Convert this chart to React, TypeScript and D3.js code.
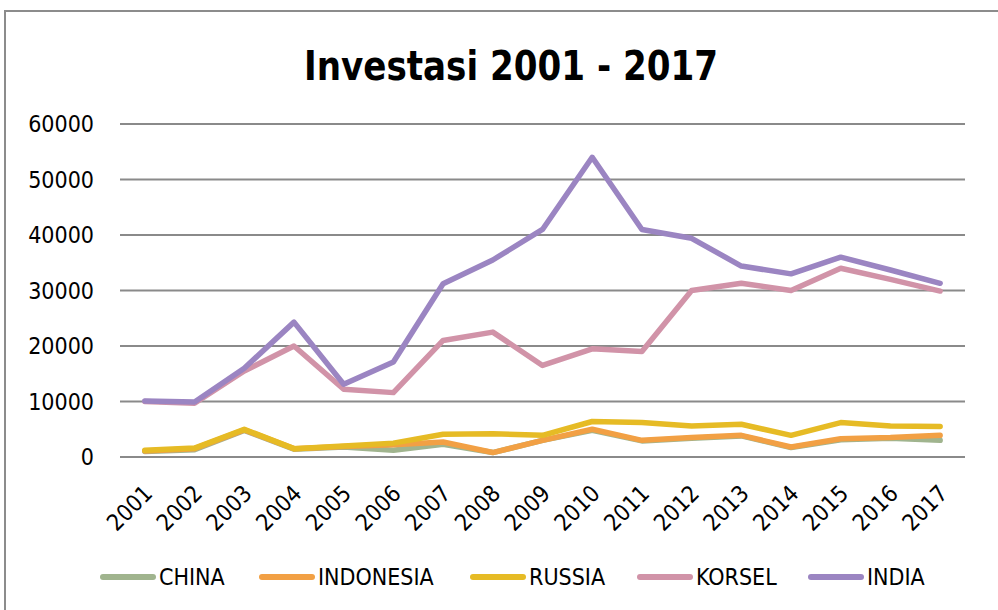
import { useEffect, useRef } from 'react'
import * as d3 from 'd3'

const years = ['2001', '2002', '2003', '2004', '2005', '2006', '2007', '2008', '2009', '2010', '2011', '2012', '2013', '2014', '2015', '2016', '2017']

const china = [1000, 1300, 4800, 1400, 1800, 1200, 2300, 800, 3000, 4800, 2900, 3400, 3800, 1700, 3100, 3400, 3000]
const indonesia = [1100, 1500, 4900, 1500, 1900, 2200, 2700, 800, 3000, 5000, 3000, 3500, 3900, 1800, 3300, 3500, 3900]
const russia = [1200, 1600, 5000, 1500, 2000, 2500, 4100, 4200, 3900, 6400, 6200, 5600, 5900, 3900, 6200, 5600, 5500]
const korsel = [10000, 9700, 15500, 20000, 12200, 11600, 21000, 22500, 16500, 19500, 19000, 30000, 31300, 30000, 34000, 32000, 29900]
const india = [10100, 9900, 16000, 24300, 13100, 17100, 31200, 35500, 41000, 54000, 41000, 39400, 34400, 33000, 36000, 33700, 31300]

const yTicks = [0, 10000, 20000, 30000, 40000, 50000, 60000]

const seriesList = [
  { name: 'CHINA', values: china, color: '#A0B48E' },
  { name: 'INDONESIA', values: indonesia, color: '#F2A044' },
  { name: 'RUSSIA', values: russia, color: '#E6BB25' },
  { name: 'KORSEL', values: korsel, color: '#D193A8' },
  { name: 'INDIA', values: india, color: '#9B85C2' },
]

const legendX = [100, 259, 470, 637, 808]

const FONT = "'DejaVu Sans Condensed', 'DejaVu Sans', sans-serif"

export default function App() {
  const svgRef = useRef<SVGSVGElement>(null)

  useEffect(() => {
    if (!svgRef.current) return
    const svg = d3.select(svgRef.current)
    svg.selectAll('*').remove()

    const W = 998
    const H = 610
    const plot = { left: 120, right: 965, top: 124, bottom: 457 }

    svg.attr('width', W).attr('height', H)
      .style('font-family', FONT)
      .style('font-stretch', 'condensed')

    svg.append('rect')
      .attr('x', 0).attr('y', 0).attr('width', W).attr('height', H)
      .attr('fill', '#fff')

    // outer chart border
    svg.append('rect')
      .attr('x', 5).attr('y', 11).attr('width', 1000).attr('height', 610)
      .attr('fill', 'none')
      .attr('stroke', '#8c8c8c')
      .attr('stroke-width', 2)

    svg.append('text')
      .attr('x', 511).attr('y', 80)
      .attr('text-anchor', 'middle')
      .attr('textLength', 414)
      .attr('lengthAdjust', 'spacingAndGlyphs')
      .style('font-size', '41px')
      .style('font-weight', '700')
      .attr('fill', '#000')
      .text('Investasi 2001 - 2017')

    const x = d3.scaleBand<string>()
      .domain(years)
      .range([plot.left, plot.right])

    const y = d3.scaleLinear()
      .domain([0, 60000])
      .range([plot.bottom, plot.top])

    yTicks.forEach(t => {
      svg.append('line')
        .attr('x1', plot.left).attr('x2', plot.right)
        .attr('y1', y(t)).attr('y2', y(t))
        .attr('stroke', '#8a8a8a')
        .attr('stroke-width', 2)
    })

    svg.append('g').selectAll('text')
      .data(yTicks)
      .join('text')
      .attr('x', 94)
      .attr('y', d => y(d))
      .attr('dy', '0.36em')
      .attr('text-anchor', 'end')
      .style('font-size', '23px')
      .attr('fill', '#000')
      .text(d => String(d))

    svg.append('g').selectAll('text')
      .data(years)
      .join('text')
      .attr('transform', d => `translate(${(x(d) ?? 0) + x.bandwidth() / 2 + 9},${495}) rotate(-45)`)
      .attr('text-anchor', 'end')
      .style('font-size', '23px')
      .attr('fill', '#000')
      .text(d => d)

    const line = d3.line<number>()
      .x((_d, i) => (x(years[i]) ?? 0) + x.bandwidth() / 2)
      .y(d => y(d))

    seriesList.forEach(s => {
      svg.append('path')
        .datum(s.values)
        .attr('fill', 'none')
        .attr('stroke', s.color)
        .attr('stroke-width', 5.5)
        .attr('stroke-linejoin', 'round')
        .attr('stroke-linecap', 'round')
        .attr('d', line)
    })

    const legend = svg.append('g')
    seriesList.forEach((s, i) => {
      const lx = legendX[i]
      legend.append('line')
        .attr('x1', lx + 3).attr('x2', lx + 53)
        .attr('y1', 577).attr('y2', 577)
        .attr('stroke', s.color)
        .attr('stroke-width', 6)
        .attr('stroke-linecap', 'round')
      legend.append('text')
        .attr('x', lx + 59).attr('y', 577)
        .attr('dy', '0.36em')
        .style('font-size', '23px')
        .attr('fill', '#000')
        .text(s.name)
    })
  }, [])

  return (
    <div style={{ position: 'absolute', left: 0, top: 0 }}>
      <svg ref={svgRef} />
    </div>
  )
}
